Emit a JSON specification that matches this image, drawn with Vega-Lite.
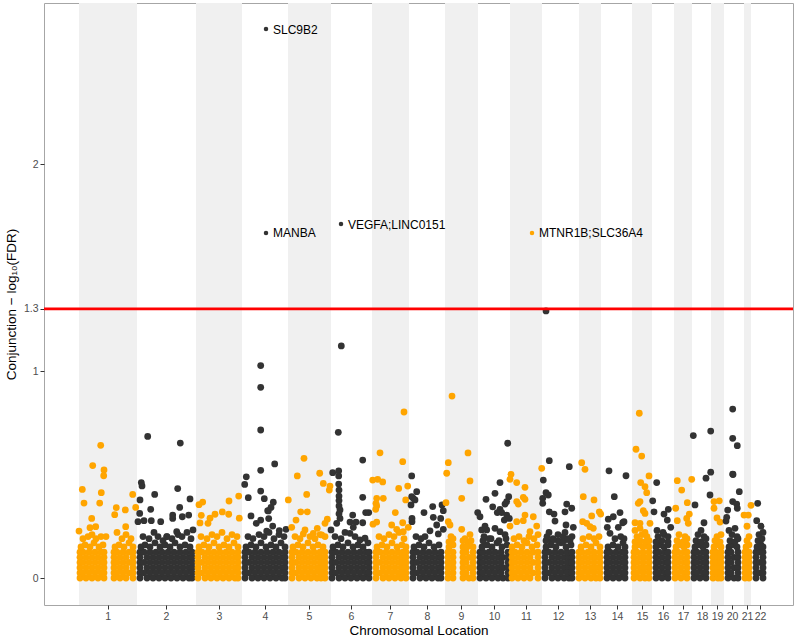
{
  "$schema": "https://vega.github.io/schema/vega-lite/v6.json",
  "width": 749,
  "height": 602,
  "autosize": {"type": "none"},
  "padding": {"left": 44, "top": 3, "right": 7, "bottom": 33},
  "background": "white",
  "config": {
    "view": {"stroke": "#A6A6A6", "strokeWidth": 1},
    "font": "Liberation Sans",
    "axis": {"domain": false, "grid": false, "tickColor": "#333333", "tickSize": 4, "tickWidth": 1, "labelColor": "#4D4D4D", "labelFontSize": 10.5, "labelPadding": 2, "titleColor": "#000000", "titleFontSize": 13.5, "titleFontWeight": "normal", "labelFont": "Liberation Sans", "titleFont": "Liberation Sans", "labelOverlap": false, "labelBound": false, "labelFlush": false}
  },
  "layer": [
    {
      "data": {"values": [
        {"c": 1, "s": 0, "e": 58}, {"c": 3, "s": 117, "e": 163}, {"c": 5, "s": 209, "e": 252},
        {"c": 7, "s": 293, "e": 330}, {"c": 9, "s": 366, "e": 399}, {"c": 11, "s": 431, "e": 463},
        {"c": 13, "s": 500, "e": 522}, {"c": 15, "s": 553, "e": 573}, {"c": 17, "s": 595, "e": 613},
        {"c": 19, "s": 632, "e": 645}, {"c": 21, "s": 665, "e": 672}
      ]},
      "mark": {"type": "rect", "color": "#F0F0F0"},
      "encoding": {
        "x": {"field": "s", "type": "quantitative", "title": "Chromosomal Location", "scale": {"domain": [-35, 714], "nice": false, "zero": false},
              "axis": {"values": [28.7, 87, 140, 186, 230, 272, 311, 348, 382, 415, 447, 479, 511, 538, 563, 584, 604, 623, 638, 653, 668, 681],
                       "labelExpr": "'' + (indexof([28.7, 87, 140, 186, 230, 272, 311, 348, 382, 415, 447, 479, 511, 538, 563, 584, 604, 623, 638, 653, 668, 681], datum.value) + 1)",
                       "labelOverlap": false, "labelFlush": false, "labelBound": false, "titlePadding": 2}},
        "x2": {"field": "e"}
      }
    },
    {
      "data": {
        "values": "c,p,y\n1,1,0\n1,7,0\n1,13,0\n1,19,0\n1,25,0\n1,35,0\n1,41,0\n1,47,0\n1,54,0\n1,1,.05\n1,7,.05\n1,13,.05\n1,19,.05\n1,25,.05\n1,35,.05\n1,41,.05\n1,47,.05\n1,54,.05\n1,1,.1\n1,7,.1\n1,13,.1\n1,19,.1\n1,25,.1\n1,35,.1\n1,41,.1\n1,47,.1\n1,54,.1\n1,1,.025\n1,4,.025\n1,10,.025\n1,16,.025\n1,22,.025\n1,25,.025\n1,35,.025\n1,38,.025\n1,44,.025\n1,50,.025\n1,54,.025\n1,1,.075\n1,4,.075\n1,10,.075\n1,16,.075\n1,22,.075\n1,25,.075\n1,35,.075\n1,38,.075\n1,44,.075\n1,50,.075\n1,54,.075\n1,1,.125\n1,4,.125\n1,10,.125\n1,16,.125\n1,22,.125\n1,25,.125\n1,35,.125\n1,38,.125\n1,44,.125\n1,50,.125\n1,54,.125\n1,2,.15\n1,6,.16\n1,11,.15\n1,15,.17\n1,20,.15\n1,24,.16\n1,36,.15\n1,40,.16\n1,45,.15\n1,50,.17\n1,54,.15\n1,0,.227\n1,4,.19\n1,9,.2\n1,13,.21\n1,17,.19\n1,22,.2\n1,27,.2\n1,38,.22\n1,43,.19\n1,47,.21\n1,52,.19\n1,11,.243\n1,16.7,.248\n1,46.7,.248\n1,12.7,.288\n1,35.7,.306\n1,21.7,.641\n1,13.7,.543\n1,25,.522\n1,24.7,.494\n1,3.3,.428\n1,22.3,.412\n1,5,.362\n1,20.7,.362\n1,37.3,.34\n1,46.3,.329\n1,53.7,.404\n1,56.7,.341\n2,61,0\n2,68,0\n2,74,0\n2,80,0\n2,86,0\n2,92,0\n2,98,0\n2,104,0\n2,110,0\n2,113,0\n2,61,.05\n2,68,.05\n2,74,.05\n2,80,.05\n2,86,.05\n2,92,.05\n2,98,.05\n2,104,.05\n2,110,.05\n2,113,.05\n2,61,.1\n2,68,.1\n2,74,.1\n2,80,.1\n2,86,.1\n2,92,.1\n2,98,.1\n2,104,.1\n2,110,.1\n2,113,.1\n2,61,.025\n2,65,.025\n2,71,.025\n2,77,.025\n2,83,.025\n2,89,.025\n2,95,.025\n2,101,.025\n2,107,.025\n2,113,.025\n2,61,.075\n2,65,.075\n2,71,.075\n2,77,.075\n2,83,.075\n2,89,.075\n2,95,.075\n2,101,.075\n2,107,.075\n2,113,.075\n2,61,.125\n2,65,.125\n2,71,.125\n2,77,.125\n2,83,.125\n2,89,.125\n2,95,.125\n2,101,.125\n2,107,.125\n2,113,.125\n2,62,.15\n2,66,.16\n2,71,.15\n2,76,.17\n2,81,.15\n2,86,.16\n2,91,.15\n2,96,.17\n2,101,.15\n2,106,.16\n2,111,.15\n2,64,.2\n2,70,.19\n2,75,.22\n2,79,.2\n2,84,.18\n2,88,.2\n2,93,.19\n2,99,.21\n2,103,.2\n2,108,.22\n2,112,.19\n2,65,.277\n2,72.3,.277\n2,81.7,.272\n2,93.7,.288\n2,103.3,.296\n2,97.7,.224\n2,114,.232\n2,87.7,.2\n2,59,.272\n2,68.7,.684\n2,101.3,.652\n2,98.7,.432\n2,111,.382\n2,62.3,.461\n2,63,.445\n2,75.7,.404\n2,61,.377\n2,71.7,.332\n2,60.7,.312\n2,100.7,.341\n2,93.7,.304\n2,109.7,.304\n3,119,0\n3,126,0\n3,132,0\n3,138,0\n3,144,0\n3,150,0\n3,156,0\n3,159,0\n3,119,.05\n3,126,.05\n3,132,.05\n3,138,.05\n3,144,.05\n3,150,.05\n3,156,.05\n3,159,.05\n3,119,.1\n3,126,.1\n3,132,.1\n3,138,.1\n3,144,.1\n3,150,.1\n3,156,.1\n3,159,.1\n3,119,.025\n3,123,.025\n3,129,.025\n3,135,.025\n3,141,.025\n3,147,.025\n3,153,.025\n3,159,.025\n3,119,.075\n3,123,.075\n3,129,.075\n3,135,.075\n3,141,.075\n3,147,.075\n3,153,.075\n3,159,.075\n3,119,.125\n3,123,.125\n3,129,.125\n3,135,.125\n3,141,.125\n3,147,.125\n3,153,.125\n3,159,.125\n3,120,.15\n3,125,.16\n3,130,.15\n3,135,.17\n3,140,.15\n3,145,.16\n3,150,.15\n3,155,.17\n3,159,.15\n3,122,.2\n3,128,.19\n3,133,.21\n3,138,.2\n3,143,.22\n3,148,.19\n3,153,.21\n3,158,.2\n3,121,.266\n3,129,.264\n3,160.3,.289\n3,159.7,.396\n3,150,.372\n3,123.7,.367\n3,120,.354\n3,143.3,.319\n3,136,.308\n3,149.7,.308\n3,122.3,.303\n3,131,.289\n4,166,0\n4,173,0\n4,179,0\n4,185,0\n4,191,0\n4,197,0\n4,203,0\n4,206,0\n4,166,.05\n4,173,.05\n4,179,.05\n4,185,.05\n4,191,.05\n4,197,.05\n4,203,.05\n4,206,.05\n4,166,.1\n4,173,.1\n4,179,.1\n4,185,.1\n4,191,.1\n4,197,.1\n4,203,.1\n4,206,.1\n4,166,.025\n4,170,.025\n4,176,.025\n4,182,.025\n4,188,.025\n4,194,.025\n4,200,.025\n4,206,.025\n4,166,.075\n4,170,.075\n4,176,.075\n4,182,.075\n4,188,.075\n4,194,.075\n4,200,.075\n4,206,.075\n4,166,.125\n4,170,.125\n4,176,.125\n4,182,.125\n4,188,.125\n4,194,.125\n4,200,.125\n4,206,.125\n4,167,.15\n4,172,.16\n4,177,.15\n4,182,.17\n4,187,.15\n4,192,.16\n4,197,.15\n4,202,.17\n4,206,.15\n4,169,.2\n4,174,.19\n4,180,.21\n4,185,.2\n4,190,.22\n4,195,.19\n4,200,.21\n4,205,.2\n4,181.7,.28\n4,193.7,.251\n4,187.7,.227\n4,200.3,.229\n4,207,.235\n4,177.3,.264\n4,189.7,.287\n4,181.7,1.026\n4,181.7,.921\n4,181.7,.715\n4,181.7,.52\n4,195.7,.551\n4,167.3,.489\n4,165.7,.452\n4,181.7,.42\n4,169.3,.388\n4,185.3,.383\n4,194.3,.366\n4,192,.341\n4,188.7,.325\n4,172,.3\n4,189.3,.324\n5,213,0\n5,220,0\n5,226,0\n5,232,0\n5,238,0\n5,242,0\n5,246,0\n5,213,.05\n5,220,.05\n5,226,.05\n5,232,.05\n5,238,.05\n5,242,.05\n5,246,.05\n5,213,.1\n5,220,.1\n5,226,.1\n5,232,.1\n5,238,.1\n5,242,.1\n5,246,.1\n5,213,.025\n5,217,.025\n5,223,.025\n5,229,.025\n5,235,.025\n5,241,.025\n5,246,.025\n5,213,.075\n5,217,.075\n5,223,.075\n5,229,.075\n5,235,.075\n5,241,.075\n5,246,.075\n5,213,.125\n5,217,.125\n5,223,.125\n5,229,.125\n5,235,.125\n5,241,.125\n5,246,.125\n5,214,.15\n5,219,.16\n5,224,.15\n5,229,.17\n5,234,.15\n5,239,.16\n5,244,.15\n5,216,.2\n5,221,.19\n5,226,.232\n5,231,.2\n5,236,.19\n5,241,.21\n5,246,.2\n5,212.7,.245\n5,224.3,.213\n5,238.3,.24\n5,234.3,.216\n5,242.7,.208\n5,217,.28\n5,248.3,.284\n5,246,.264\n5,225,.578\n5,218.3,.493\n5,240.7,.506\n5,244.3,.457\n5,251,.444\n5,250.3,.425\n5,227.7,.404\n5,209.3,.377\n5,221.7,.32\n5,228.3,.32\n6,253,0\n6,260,0\n6,266,0\n6,272,0\n6,278,0\n6,284,0\n6,290,0\n6,253,.05\n6,260,.05\n6,266,.05\n6,272,.05\n6,278,.05\n6,284,.05\n6,290,.05\n6,253,.1\n6,260,.1\n6,266,.1\n6,272,.1\n6,278,.1\n6,284,.1\n6,290,.1\n6,253,.025\n6,257,.025\n6,263,.025\n6,269,.025\n6,275,.025\n6,281,.025\n6,287,.025\n6,290,.025\n6,253,.075\n6,257,.075\n6,263,.075\n6,269,.075\n6,275,.075\n6,281,.075\n6,287,.075\n6,290,.075\n6,253,.125\n6,257,.125\n6,263,.125\n6,269,.125\n6,275,.125\n6,281,.125\n6,287,.125\n6,290,.125\n6,254,.15\n6,259,.16\n6,264,.15\n6,269,.17\n6,274,.15\n6,279,.16\n6,284,.15\n6,289,.17\n6,256,.2\n6,262,.19\n6,266,.22\n6,271,.216\n6,276,.2\n6,281,.184\n6,286,.192\n6,252,.232\n6,261,.288\n6,257.7,.264\n6,271,.27\n6,277,.27\n6,274.3,.245\n6,283.7,.267\n6,262.3,1.121\n6,259.3,.704\n6,283.7,.57\n6,253.7,.509\n6,259.7,.518\n6,259.7,.493\n6,259.7,.454\n6,260,.425\n6,260,.396\n6,260,.374\n6,260,.348\n6,261,.329\n6,260,.31\n6,283.7,.39\n6,273.7,.304\n6,289.7,.316\n6,286.7,.316\n7,297,0\n7,304,0\n7,310,0\n7,316,0\n7,322,0\n7,327,0\n7,297,.05\n7,304,.05\n7,310,.05\n7,316,.05\n7,322,.05\n7,327,.05\n7,297,.1\n7,304,.1\n7,310,.1\n7,316,.1\n7,322,.1\n7,327,.1\n7,297,.025\n7,301,.025\n7,307,.025\n7,313,.025\n7,319,.025\n7,324,.025\n7,327,.025\n7,297,.075\n7,301,.075\n7,307,.075\n7,313,.075\n7,319,.075\n7,324,.075\n7,327,.075\n7,297,.125\n7,301,.125\n7,307,.125\n7,313,.125\n7,319,.125\n7,324,.125\n7,327,.125\n7,298,.15\n7,303,.16\n7,308,.15\n7,313,.17\n7,318,.15\n7,323,.16\n7,327,.15\n7,300,.2\n7,305,.19\n7,310,.21\n7,315,.2\n7,320,.22\n7,325,.19\n7,294,.26\n7,297.7,.27\n7,312.7,.256\n7,317.7,.235\n7,323.7,.267\n7,324.3,.224\n7,329.3,.245\n7,325,.802\n7,301,.605\n7,323.7,.562\n7,293.7,.473\n7,298.7,.477\n7,303.7,.464\n7,328.7,.444\n7,319.7,.433\n7,297.7,.385\n7,304.3,.385\n7,297,.361\n7,326.7,.377\n7,316.3,.316\n7,297.7,.348\n7,296.7,.332\n8,334,0\n8,341,0\n8,347,0\n8,353,0\n8,359,0\n8,362,0\n8,334,.05\n8,341,.05\n8,347,.05\n8,353,.05\n8,359,.05\n8,362,.05\n8,334,.1\n8,341,.1\n8,347,.1\n8,353,.1\n8,359,.1\n8,362,.1\n8,334,.025\n8,338,.025\n8,344,.025\n8,350,.025\n8,356,.025\n8,362,.025\n8,334,.075\n8,338,.075\n8,344,.075\n8,350,.075\n8,356,.075\n8,362,.075\n8,334,.125\n8,338,.125\n8,344,.125\n8,350,.125\n8,356,.125\n8,362,.125\n8,335,.15\n8,340,.16\n8,345,.15\n8,350,.17\n8,355,.15\n8,360,.16\n8,337,.2\n8,342,.19\n8,346,.2\n8,351,.228\n8,357.7,.256\n8,359.3,.213\n8,364.3,.235\n8,333,.288\n8,333,.272\n8,354.3,.293\n8,361.7,.288\n8,332.7,.493\n8,337.7,.417\n8,334.3,.385\n8,332.7,.393\n8,336,.377\n8,332,.353\n8,345,.316\n8,353.7,.345\n8,363,.353\n8,364.3,.325\n9,369,0\n9,374,0\n9,384,0\n9,390,0\n9,394,0\n9,369,.05\n9,374,.05\n9,384,.05\n9,390,.05\n9,394,.05\n9,369,.1\n9,374,.1\n9,384,.1\n9,390,.1\n9,394,.1\n9,369,.025\n9,374,.025\n9,384,.025\n9,387,.025\n9,394,.025\n9,369,.075\n9,374,.075\n9,384,.075\n9,387,.075\n9,394,.075\n9,369,.125\n9,374,.125\n9,384,.125\n9,387,.125\n9,394,.125\n9,370,.15\n9,374,.16\n9,384,.15\n9,389,.17\n9,394,.15\n9,370,.175\n9,374,.19\n9,384,.18\n9,388,.15\n9,392,.18\n9,372,.2\n9,386,.19\n9,391,.21\n9,369.3,.272\n9,371,.256\n9,382.7,.235\n9,373,.879\n9,389,.604\n9,369.3,.557\n9,367.7,.506\n9,391,.469\n9,382.7,.385\n9,367,.364\n10,401,0\n10,407,0\n10,413,0\n10,419,0\n10,424,0\n10,429,0\n10,401,.05\n10,407,.05\n10,413,.05\n10,419,.05\n10,424,.05\n10,429,.05\n10,401,.1\n10,407,.1\n10,413,.1\n10,419,.1\n10,424,.1\n10,429,.1\n10,401,.025\n10,404,.025\n10,410,.025\n10,416,.025\n10,422,.025\n10,429,.025\n10,401,.075\n10,404,.075\n10,410,.075\n10,416,.075\n10,422,.075\n10,429,.075\n10,401,.125\n10,404,.125\n10,410,.125\n10,416,.125\n10,422,.125\n10,429,.125\n10,403,.15\n10,408,.16\n10,413,.15\n10,418,.17\n10,423,.15\n10,428,.16\n10,404,.18\n10,412,.19\n10,420,.18\n10,427,.19\n10,405,.2\n10,410,.19\n10,416,.24\n10,421,.224\n10,426,.21\n10,402.7,.232\n10,407.7,.232\n10,406,.251\n10,428.7,.651\n10,421,.461\n10,416,.409\n10,407,.38\n10,429.7,.393\n10,427.7,.369\n10,426,.357\n10,398.7,.316\n10,401,.296\n10,413.7,.344\n10,421,.332\n10,418.3,.316\n10,422.7,.316\n10,427.7,.304\n10,425.3,.28\n10,430.3,.288\n11,433,0\n11,439,0\n11,445,0\n11,451,0\n11,459,0\n11,433,.05\n11,439,.05\n11,445,.05\n11,451,.05\n11,459,.05\n11,433,.1\n11,439,.1\n11,445,.1\n11,451,.1\n11,459,.1\n11,433,.025\n11,436,.025\n11,442,.025\n11,448,.025\n11,454,.025\n11,459,.025\n11,433,.075\n11,436,.075\n11,442,.075\n11,448,.075\n11,454,.075\n11,459,.075\n11,433,.125\n11,436,.125\n11,442,.125\n11,448,.125\n11,454,.125\n11,459,.125\n11,433,.15\n11,438,.16\n11,443,.15\n11,448,.17\n11,453,.15\n11,458,.16\n11,435,.19\n11,440,.2\n11,445,.18\n11,450,.2\n11,455,.19\n11,459,.21\n11,431,.251\n11,437.7,.272\n11,446,.304\n11,444.3,.277\n11,454.3,.296\n11,457.7,.251\n11,451,.224\n11,462.7,.53\n11,432,.501\n11,431,.477\n11,437.7,.461\n11,446,.438\n11,437.7,.369\n11,439.3,.357\n11,444.3,.39\n11,446,.38\n12,466,0\n12,473,0\n12,479,0\n12,485,0\n12,490,0\n12,493,0\n12,466,.05\n12,473,.05\n12,479,.05\n12,485,.05\n12,490,.05\n12,493,.05\n12,466,.1\n12,473,.1\n12,479,.1\n12,485,.1\n12,490,.1\n12,493,.1\n12,466,.025\n12,470,.025\n12,476,.025\n12,482,.025\n12,488,.025\n12,493,.025\n12,466,.075\n12,470,.075\n12,476,.075\n12,482,.075\n12,488,.075\n12,493,.075\n12,466,.125\n12,470,.125\n12,476,.125\n12,482,.125\n12,488,.125\n12,493,.125\n12,467,.15\n12,472,.16\n12,477,.15\n12,482,.17\n12,487,.15\n12,492,.16\n12,467,.18\n12,473,.18\n12,479,.18\n12,485,.18\n12,491,.18\n12,468,.2\n12,474,.19\n12,479,.21\n12,484,.2\n12,489,.19\n12,493,.2\n12,470,.22\n12,486,.22\n12,467,1.29\n12,470.3,.567\n12,490.3,.538\n12,464.3,.473\n12,467,.412\n12,463.7,.385\n12,469.3,.401\n12,463.7,.361\n12,470.3,.32\n12,475,.309\n12,476,.275\n12,487.7,.357\n12,486,.32\n12,492.7,.337\n12,487,.256\n12,494.3,.245\n13,500,0\n13,506,0\n13,512,0\n13,517,0\n13,521,0\n13,500,.05\n13,506,.05\n13,512,.05\n13,517,.05\n13,521,.05\n13,500,.1\n13,506,.1\n13,512,.1\n13,517,.1\n13,521,.1\n13,500,.025\n13,503,.025\n13,509,.025\n13,515,.025\n13,521,.025\n13,500,.075\n13,503,.075\n13,509,.075\n13,515,.075\n13,521,.075\n13,500,.125\n13,503,.125\n13,509,.125\n13,515,.125\n13,521,.125\n13,502,.15\n13,507,.16\n13,512,.15\n13,517,.17\n13,521,.15\n13,504,.19\n13,510,.2\n13,515,.19\n13,520,.2\n13,503.7,.272\n13,507.7,.264\n13,511,.248\n13,502.7,.557\n13,506,.525\n13,515,.377\n13,504.3,.393\n13,512.7,.3\n13,520.3,.32\n13,521.7,.309\n13,514.3,.24\n14,528,0\n14,534,0\n14,540,0\n14,546,0\n14,528,.05\n14,534,.05\n14,540,.05\n14,546,.05\n14,528,.1\n14,534,.1\n14,540,.1\n14,546,.1\n14,528,.025\n14,531,.025\n14,537,.025\n14,543,.025\n14,546,.025\n14,528,.075\n14,531,.075\n14,537,.075\n14,543,.075\n14,546,.075\n14,528,.125\n14,531,.125\n14,537,.125\n14,543,.125\n14,546,.125\n14,529,.15\n14,534,.16\n14,539,.15\n14,544,.17\n14,546,.15\n14,531,.216\n14,536,.19\n14,541.7,.2\n14,545,.19\n14,528.3,.245\n14,539.3,.245\n14,543.7,.267\n14,545,.272\n14,530,.518\n14,547,.494\n14,535.3,.393\n14,529.3,.284\n14,534.3,.296\n14,541,.316\n15,555,0\n15,561,0\n15,566,0\n15,570,0\n15,555,.05\n15,561,.05\n15,566,.05\n15,570,.05\n15,555,.1\n15,561,.1\n15,566,.1\n15,570,.1\n15,555,.025\n15,558,.025\n15,564,.025\n15,570,.025\n15,555,.075\n15,558,.075\n15,564,.075\n15,570,.075\n15,555,.125\n15,558,.125\n15,564,.125\n15,570,.125\n15,556,.15\n15,560,.16\n15,564,.15\n15,568,.17\n15,570,.15\n15,556,.175\n15,561,.18\n15,566,.175\n15,570,.18\n15,558,.2\n15,563,.21\n15,568,.2\n15,556,.23\n15,561,.24\n15,566,.22\n15,560.3,.796\n15,557,.622\n15,562.7,.589\n15,570,.493\n15,561.7,.461\n15,566,.441\n15,567.7,.412\n15,559.3,.361\n15,561,.369\n15,564.3,.325\n15,566,.312\n15,571,.264\n15,556,.267\n15,561,.264\n16,577,0\n16,583,0\n16,589,0\n16,577,.05\n16,583,.05\n16,589,.05\n16,577,.1\n16,583,.1\n16,589,.1\n16,577,.025\n16,580,.025\n16,586,.025\n16,589,.025\n16,577,.075\n16,580,.075\n16,586,.075\n16,589,.075\n16,577,.125\n16,580,.125\n16,586,.125\n16,589,.125\n16,577,.15\n16,581,.16\n16,585,.15\n16,589,.16\n16,577,.175\n16,583,.18\n16,589,.175\n16,579,.2\n16,585,.21\n16,589,.2\n16,578,.23\n16,584,.22\n16,577.7,.461\n16,573.7,.373\n16,575,.32\n16,589.3,.332\n16,588.3,.28\n16,591.7,.245\n16,585,.309\n17,596,0\n17,602,0\n17,608,0\n17,596,.05\n17,602,.05\n17,608,.05\n17,596,.1\n17,602,.1\n17,608,.1\n17,596,.025\n17,599,.025\n17,605,.025\n17,608,.025\n17,596,.075\n17,599,.075\n17,605,.075\n17,608,.075\n17,596,.125\n17,599,.125\n17,605,.125\n17,608,.125\n17,597,.15\n17,601,.16\n17,605,.15\n17,608,.16\n17,598,.18\n17,604,.175\n17,608,.19\n17,600,.21\n17,606,.2\n17,598.3,.47\n17,612.7,.477\n17,602.7,.425\n17,608.3,.364\n17,596.7,.337\n17,610.3,.309\n17,607.7,.288\n17,598.3,.277\n17,609.3,.264\n18,615,0\n18,621,0\n18,627,0\n18,615,.05\n18,621,.05\n18,627,.05\n18,615,.1\n18,621,.1\n18,627,.1\n18,615,.025\n18,618,.025\n18,624,.025\n18,627,.025\n18,615,.075\n18,618,.075\n18,624,.075\n18,627,.075\n18,615,.125\n18,618,.125\n18,624,.125\n18,627,.125\n18,616,.15\n18,620,.16\n18,624,.15\n18,627,.16\n18,617,.18\n18,622,.175\n18,627,.19\n18,619,.21\n18,625,.2\n18,622,.23\n18,614.3,.688\n18,631.7,.71\n18,627,.482\n18,631.7,.511\n18,631,.401\n18,616,.353\n18,625,.267\n19,634,0\n19,639,0\n19,642,0\n19,634,.05\n19,639,.05\n19,642,.05\n19,634,.1\n19,639,.1\n19,642,.1\n19,634,.025\n19,637,.025\n19,642,.025\n19,634,.075\n19,637,.075\n19,642,.075\n19,634,.125\n19,637,.125\n19,642,.125\n19,635,.15\n19,639,.16\n19,642,.15\n19,636,.18\n19,641,.175\n19,638,.2\n19,642,.21\n19,635,.369\n19,640.3,.373\n19,635,.337\n19,638,.29\n19,641,.27\n20,649,0\n20,655,0\n20,659,0\n20,649,.05\n20,655,.05\n20,659,.05\n20,649,.1\n20,655,.1\n20,659,.1\n20,649,.025\n20,652,.025\n20,659,.025\n20,649,.075\n20,652,.075\n20,659,.075\n20,649,.125\n20,652,.125\n20,659,.125\n20,650,.15\n20,654,.16\n20,658,.15\n20,651,.18\n20,656,.175\n20,659,.19\n20,653,.21\n20,658,.2\n20,650,.23\n20,656,.24\n20,653.7,.816\n20,653.7,.675\n20,658.3,.639\n20,653.7,.502\n20,654,.5\n20,660.3,.417\n20,653.7,.369\n20,657.7,.357\n20,658.3,.337\n20,648.7,.328\n20,647.7,.293\n20,647,.275\n21,666,0\n21,670,0\n21,666,.05\n21,670,.05\n21,666,.1\n21,670,.1\n21,666,.025\n21,670,.025\n21,666,.075\n21,670,.075\n21,666,.125\n21,670,.125\n21,667,.15\n21,670,.16\n21,668,.18\n21,670,.2\n21,665,.304\n21,669.3,.304\n21,672,.351\n21,668,.25\n22,677,0\n22,684,0\n22,677,.05\n22,684,.05\n22,677,.1\n22,684,.1\n22,677,.025\n22,681,.025\n22,684,.025\n22,677,.075\n22,681,.075\n22,684,.075\n22,677,.125\n22,681,.125\n22,684,.125\n22,678,.15\n22,682,.16\n22,684,.15\n22,679,.18\n22,683,.19\n22,680,.21\n22,684,.22\n22,678.7,.361\n22,677.7,.277\n22,682,.25",
        "format": {"type": "csv", "parse": {"c": "number", "p": "number", "y": "number"}}
      },
      "mark": {"type": "circle", "size": 46, "opacity": 1},
      "encoding": {
        "x": {"field": "p", "type": "quantitative", "title": "Chromosomal Location",
              "scale": {"domain": [-35, 714], "nice": false, "zero": false},
              "axis": {"values": [28.7, 87, 140, 186, 230, 272, 311, 348, 382, 415, 447, 479, 511, 538, 563, 584, 604, 623, 638, 653, 668, 681],
                       "labelExpr": "'' + (indexof([28.7, 87, 140, 186, 230, 272, 311, 348, 382, 415, 447, 479, 511, 538, 563, 584, 604, 623, 638, 653, 668, 681], datum.value) + 1)",
                       "labelOverlap": false, "labelFlush": false, "labelBound": false, "titlePadding": 2}},
        "y": {"field": "y", "type": "quantitative", "title": "Conjunction − log₁₀(FDR)",
              "scale": {"domain": [-0.1304, 2.7778], "nice": false, "zero": false},
              "axis": {"values": [0, 1, 1.3, 2], "labelExpr": "'' + datum.value", "titlePadding": 5, "labelOverlap": false}},
        "color": {"field": "c", "type": "nominal", "legend": null,
                  "scale": {"domain": [1,2,3,4,5,6,7,8,9,10,11,12,13,14,15,16,17,18,19,20,21,22],
                            "range": ["#FFA500","#333333","#FFA500","#333333","#FFA500","#333333","#FFA500","#333333","#FFA500","#333333","#FFA500","#333333","#FFA500","#333333","#FFA500","#333333","#FFA500","#333333","#FFA500","#333333","#FFA500","#333333"]}}
      }
    },
    {
      "data": {"values": [{"threshold": 1.3}]},
      "mark": {"type": "rule", "color": "#FF0000", "strokeWidth": 2.6},
      "encoding": {
        "y": {"field": "threshold", "type": "quantitative", "title": "Conjunction − log₁₀(FDR)", "scale": {"domain": [-0.1304, 2.7778], "nice": false, "zero": false},
              "axis": {"values": [0, 1, 1.3, 2], "labelExpr": "'' + datum.value", "titlePadding": 5, "labelOverlap": false}}
      }
    },
    {
      "data": {"values": [
        {"gene": "SLC9B2", "c": 4, "p": 187, "y": 2.652},
        {"gene": "MANBA", "c": 4, "p": 187, "y": 1.667},
        {"gene": "VEGFA;LINC0151", "c": 6, "p": 262, "y": 1.71},
        {"gene": "MTNR1B;SLC36A4", "c": 11, "p": 453, "y": 1.667}
      ]},
      "encoding": {
        "x": {"field": "p", "type": "quantitative", "title": "Chromosomal Location", "scale": {"domain": [-35, 714], "nice": false, "zero": false},
              "axis": {"values": [28.7, 87, 140, 186, 230, 272, 311, 348, 382, 415, 447, 479, 511, 538, 563, 584, 604, 623, 638, 653, 668, 681],
                       "labelExpr": "'' + (indexof([28.7, 87, 140, 186, 230, 272, 311, 348, 382, 415, 447, 479, 511, 538, 563, 584, 604, 623, 638, 653, 668, 681], datum.value) + 1)",
                       "labelOverlap": false, "labelFlush": false, "labelBound": false, "titlePadding": 2}},
        "y": {"field": "y", "type": "quantitative", "title": "Conjunction − log₁₀(FDR)", "scale": {"domain": [-0.1304, 2.7778], "nice": false, "zero": false},
              "axis": {"values": [0, 1, 1.3, 2], "labelExpr": "'' + datum.value", "titlePadding": 5, "labelOverlap": false}}
      },
      "layer": [
        {"mark": {"type": "circle", "size": 20, "opacity": 1},
         "encoding": {"color": {"field": "c", "type": "nominal", "legend": null}}},
        {"mark": {"type": "text", "align": "left", "baseline": "middle", "dx": 7, "dy": 0.5, "fontSize": 12, "font": "Liberation Sans", "color": "#000000"},
         "encoding": {"text": {"field": "gene", "type": "nominal"}}}
      ]
    }
  ]
}
